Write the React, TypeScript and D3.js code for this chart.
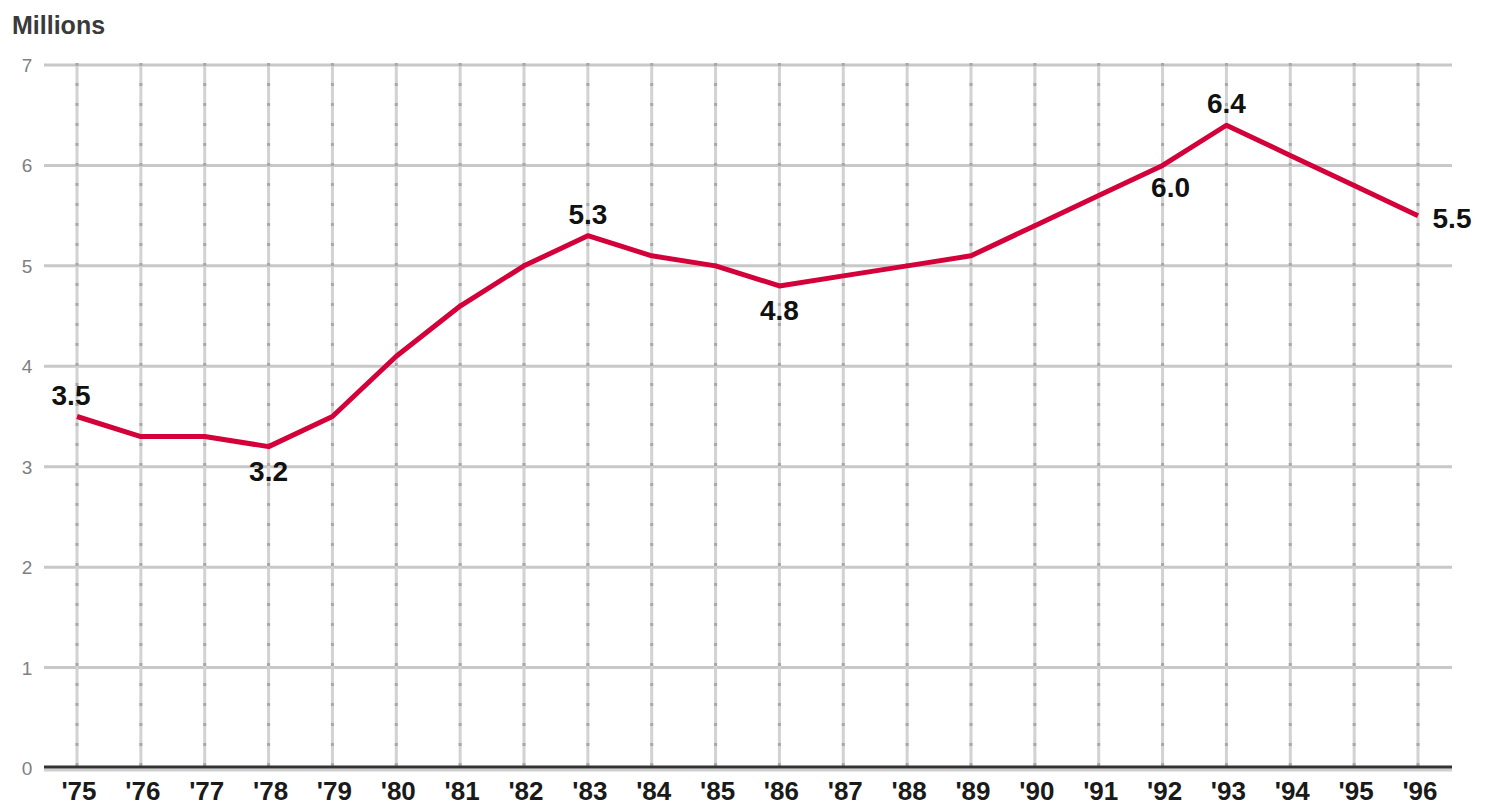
import React from "react";
import * as d3 from "d3";

const years = ["'75", "'76", "'77", "'78", "'79", "'80", "'81", "'82", "'83", "'84", "'85", "'86", "'87", "'88", "'89", "'90", "'91", "'92", "'93", "'94", "'95", "'96"];
const values = [3.5, 3.3, 3.3, 3.2, 3.5, 4.1, 4.6, 5.0, 5.3, 5.1, 5.0, 4.8, 4.9, 5.0, 5.1, 5.4, 5.7, 6.0, 6.4, 6.1, 5.8, 5.5];
const yTicks = [0, 1, 2, 3, 4, 5, 6, 7];
// labelled points: index, dx, dy
const callouts = [
  { i: 0, dx: -6, dy: -12 },
  { i: 3, dx: 0, dy: 34 },
  { i: 8, dx: 0, dy: -12 },
  { i: 11, dx: 0, dy: 34 },
  { i: 17, dx: 8, dy: 32 },
  { i: 18, dx: 0, dy: -12 },
  { i: 21, dx: 34, dy: 12 },
];

const font = "Arial, 'Liberation Sans', sans-serif";

export default function App() {
  const W = 1488;
  const H = 807;
  const left = 44, right = 1452, top = 65, bottom = 768;

  const x = d3.scalePoint<string>().domain(years).range([77, 1418]);
  const y = d3.scaleLinear().domain([0, 7]).range([bottom, top]);

  const line = d3
    .line<number>()
    .x((_, i) => x(years[i]) as number)
    .y((d) => y(d));

  return (
    <div style={{ position: "absolute", left: 0, top: 0 }}>
      <svg width={W} height={H} style={{ display: "block", background: "#fff" }}>
        <text x={12} y={34} fontFamily={font} fontSize={25} fontWeight={700} fill="#3a3a3a">
          Millions
        </text>

        {/* horizontal grid */}
        {yTicks.map((t) => (
          <g key={t}>
            {t > 0 && (
              <line x1={left} x2={right} y1={y(t)} y2={y(t)} stroke="#c8c8c8" strokeWidth={3} />
            )}
            <text x={27} y={y(t) + 7} textAnchor="middle" fontFamily={font} fontSize={19} fill="#808080">
              {t}
            </text>
          </g>
        ))}

        {/* vertical grid */}
        {years.map((yr) => (
          <g key={yr}>
            <line x1={x(yr)} x2={x(yr)} y1={top - 2} y2={bottom} stroke="#d2d2d2" strokeWidth={3} />
            <line
              x1={x(yr)}
              x2={x(yr)}
              y1={top - 2}
              y2={bottom}
              stroke="#a8a8a8"
              strokeWidth={3}
              strokeDasharray="3 17"
            />
            <text
              x={(x(yr) as number) + 2}
              y={800}
              textAnchor="middle"
              fontFamily={font}
              fontSize={26}
              fontWeight={700}
              fill="#1a1a1a"
            >
              {yr}
            </text>
          </g>
        ))}

        {/* baseline */}
        <line x1={left} x2={right} y1={bottom + 2} y2={bottom + 2} stroke="#cfcfcf" strokeWidth={3} />
        <line x1={left} x2={right} y1={bottom - 1} y2={bottom - 1} stroke="#333" strokeWidth={3} />

        <path d={line(values) || ""} fill="none" stroke="#d3003a" strokeWidth={5} strokeLinejoin="round" />

        {callouts.map((c) => (
          <text
            key={c.i}
            x={(x(years[c.i]) as number) + c.dx}
            y={y(values[c.i]) + c.dy}
            textAnchor="middle"
            fontFamily={font}
            fontSize={28}
            fontWeight={700}
            fill="#111"
          >
            {values[c.i].toFixed(1)}
          </text>
        ))}
      </svg>
    </div>
  );
}
